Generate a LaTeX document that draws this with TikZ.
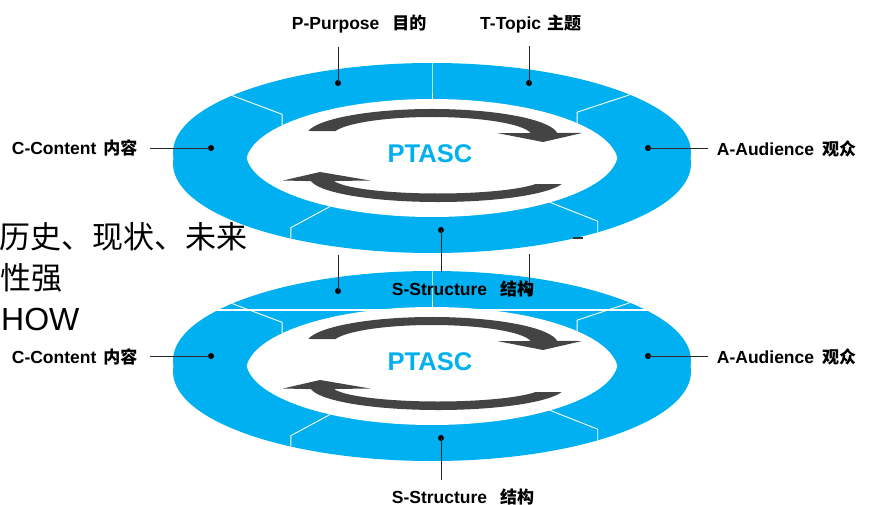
\documentclass[tikz,border=0pt]{standalone}
\usepackage{fontspec}
\setmainfont{Liberation Sans}
\newfontfamily\cjk{Noto Sans CJK SC}
\usetikzlibrary{calc}

\definecolor{ringblau}{RGB}{0,176,240}
\definecolor{pfeilgrau}{RGB}{68,68,68}
\newcommand{\zh}[1]{{\cjk\fontsize{17}{19}\selectfont #1}}

\begin{document}
\begin{tikzpicture}[x=1pt, y=-1pt,
    ring/.style={fill=ringblau},
    fuge/.style={draw=white, line width=0.9pt},
    pfeil/.style={fill=pfeilgrau},
    punkt/.style={circle, fill=black, inner sep=0pt, minimum size=6pt},
    leitung/.style={draw=black!85, line width=0.9pt},
    etikett/.style={font=\fontsize{17.5}{20}\selectfont\bfseries, inner sep=0pt, anchor=base west},
    titel/.style={font=\fontsize{25.6}{28}\selectfont\bfseries, text=ringblau},
    notiz/.style={inner sep=0pt, anchor=base west}]

\useasboundingbox (0,0) rectangle (875,505);

% Text links
\node[notiz, font=\cjk\fontsize{31}{34}\selectfont] (zeile1) at (-1,248) {历史、现状、未来};
\node[notiz, font=\cjk\fontsize{31}{34}\selectfont] (zeile2) at (0,289) {性强};
\node[notiz, font=\fontsize{32}{36}\selectfont] (zeile3) at (1,330) {HOW};

% zwei Ringe: u = unten, o = oben
\foreach \dy/\r in {208/u, 0/o} {
  \begin{scope}[shift={(0,\dy)}]
    % Ringkoerper
    \fill[ring] (432,152.5) ellipse [x radius=259, y radius=89.5];
    \fill[ring] (432,163.5) ellipse [x radius=259, y radius=89.5];
    \begin{scope}
      \clip (432,152.5) ellipse [x radius=186, y radius=64.5];
      \fill[white] (432,163.5) ellipse [x radius=186, y radius=64.5];
    \end{scope}
    % Fugen
    \foreach \a/\b in {270/270, 219.5/216.3, 319.8/321.3}
      \draw[fuge] ($(432,152.5)+(\a:259 and 89.5)$) -- ($(432,152.5)+(\b:186 and 64.5)$) -- ++(0,11);
    \foreach \a/\b in {123/123.2, 50.2/50.6}
      \draw[fuge] ($(432,152.5)+(\b:186 and 64.5)$) -- ($(432,152.5)+(\a:259 and 89.5)$) -- ++(0,11);
    % Pfeile
    \fill[pfeil] ($(432,136)+(190.7:126 and 27)$)
      arc[start angle=190.7, end angle=353.6, x radius=126, y radius=27]
      -- (582,133) -- (543,142) -- (497,133)
      -- ($(432,136)+(351.4:100 and 19)$)
      arc[start angle=351.4, end angle=195, x radius=100, y radius=19] -- cycle;
    \fill[pfeil] ($(438,178)+(15.1:128 and 24)$)
      arc[start angle=15.1, end angle=172.5, x radius=128, y radius=24]
      -- (283,180.5) -- (320,172) -- (370,180.5)
      -- ($(438,178)+(168.8:106 and 15.5)$)
      arc[start angle=168.8, end angle=22.8, x radius=106, y radius=15.5] -- cycle;
    % Titel
    \node[titel] (\r-titel) at (430,154) {PTASC};
    % Punkte
    \node[punkt] (\r-pdot) at (338,83) {};
    \node[punkt] (\r-tdot) at (529,83) {};
    \node[punkt] (\r-cdot) at (211,148) {};
    \node[punkt] (\r-adot) at (648,148) {};
    \node[punkt] (\r-sdot) at (441,230) {};
    % Leitungen
    \coordinate (\r-pend) at (338,47);
    \coordinate (\r-tend) at (529,46);
    \coordinate (\r-cend) at (150,148);
    \coordinate (\r-aend) at (708,148);
    \coordinate (\r-send) at (441,272);
    \foreach \k in {p,t,c,a,s}
      \draw[leitung] (\r-\k dot.center) -- (\r-\k end);
    % Beschriftungen
    \node[etikett] (\r-clbl) at (11.7,155) {C-Content\hspace{7pt}\zh{内容}};
    \node[etikett] (\r-albl) at (716.7,155.5) {A-Audience\hspace{8pt}\zh{观众}};
    \node[etikett] (\r-slbl) at (391.7,295) {S-Structure\hspace{13pt}\zh{结构}};
  \end{scope}
}

% nur oben sichtbar
\node[etikett] (o-plbl) at (291.7,29.5) {P-Purpose\hspace{13pt}\zh{目的}};
\node[etikett] (o-tlbl) at (480,29.5) {T-Topic\hspace{6pt}\zh{主题}};

% Schnittkante unterer Ring
\draw[white, line width=1.2pt] (200,310) -- (665,310);

% Rest
\draw[line width=2pt, black!80] (573,238) -- (583,238);
\end{tikzpicture}
\end{document}
